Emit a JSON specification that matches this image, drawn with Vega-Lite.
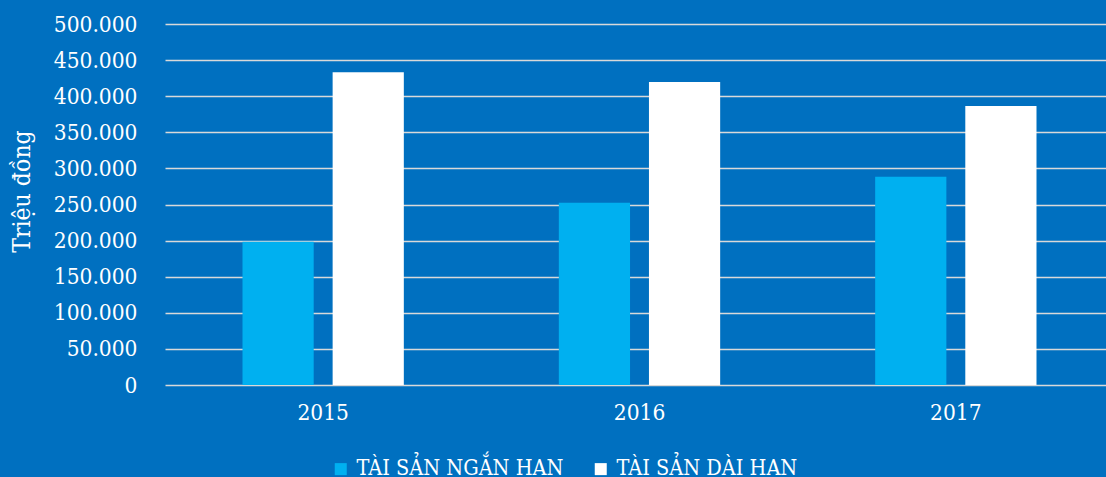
{
  "$schema": "https://vega.github.io/schema/vega-lite/v6.json",
  "width": 949,
  "height": 361,
  "autosize": "none",
  "padding": {"left": 165, "top": 24, "right": 0, "bottom": 92},
  "background": "#0070C0",
  "data": {
    "values": [
      {"year": "2015", "type": "TÀI SẢN NGẮN HẠN", "value": 198500},
      {"year": "2015", "type": "TÀI SẢN DÀI HẠN", "value": 433000},
      {"year": "2016", "type": "TÀI SẢN NGẮN HẠN", "value": 252500},
      {"year": "2016", "type": "TÀI SẢN DÀI HẠN", "value": 419700},
      {"year": "2017", "type": "TÀI SẢN NGẮN HẠN", "value": 288500},
      {"year": "2017", "type": "TÀI SẢN DÀI HẠN", "value": 386400}
    ]
  },
  "mark": {"type": "bar"},
  "encoding": {
    "x": {
      "field": "year", "type": "nominal",
      "scale": {"paddingInner": 0.49, "paddingOuter": 0.245},
      "axis": {"title": null, "labelAngle": 0, "ticks": false, "domain": false, "labelPadding": 16, "labelFontSize": 22.5, "labelColor": "#FFFFFF", "labelFont": "DejaVu Serif Condensed"}
    },
    "xOffset": {
      "field": "type", "type": "nominal",
      "sort": ["TÀI SẢN NGẮN HẠN", "TÀI SẢN DÀI HẠN"],
      "scale": {"paddingInner": 0.21, "paddingOuter": 0}
    },
    "y": {
      "field": "value", "type": "quantitative",
      "scale": {"domain": [0, 500000], "nice": false},
      "axis": {
        "title": "Triệu đồng",
        "values": [0, 50000, 100000, 150000, 200000, 250000, 300000, 350000, 400000, 450000, 500000],
        "format": ",.0f",
        "ticks": false, "domain": false,
        "labelPadding": 28, "labelFontSize": 22.5, "labelColor": "#FFFFFF", "labelFont": "DejaVu Serif Condensed",
        "gridColor": "#D9D9D9", "gridWidth": 1.5,
        "titleFont": "DejaVu Serif Condensed", "titleFontSize": 24.5, "titleFontWeight": "normal", "titleColor": "#FFFFFF",
        "titleAngle": -90, "titleX": -136, "titleY": 167, "titleAlign": "center", "titleBaseline": "alphabetic"
      }
    },
    "color": {
      "field": "type", "type": "nominal",
      "scale": {"domain": ["TÀI SẢN NGẮN HẠN", "TÀI SẢN DÀI HẠN"], "range": ["#00B0F0", "#FFFFFF"]},
      "legend": {
        "title": null, "orient": "none", "direction": "horizontal",
        "legendX": 165, "legendY": 434,
        "symbolType": "square", "symbolSize": 144, "symbolStrokeWidth": 0, "symbolOpacity": 1,
        "labelFont": "DejaVu Serif Condensed", "labelFontSize": 21.5, "labelColor": "#FFFFFF", "labelLimit": 0,
        "labelOffset": 5, "columnPadding": 26
      }
    }
  },
  "config": {
    "view": {"stroke": null},
    "locale": {"number": {"decimal": ",", "thousands": ".", "grouping": [3], "currency": ["", "đ"]}}
  }
}
